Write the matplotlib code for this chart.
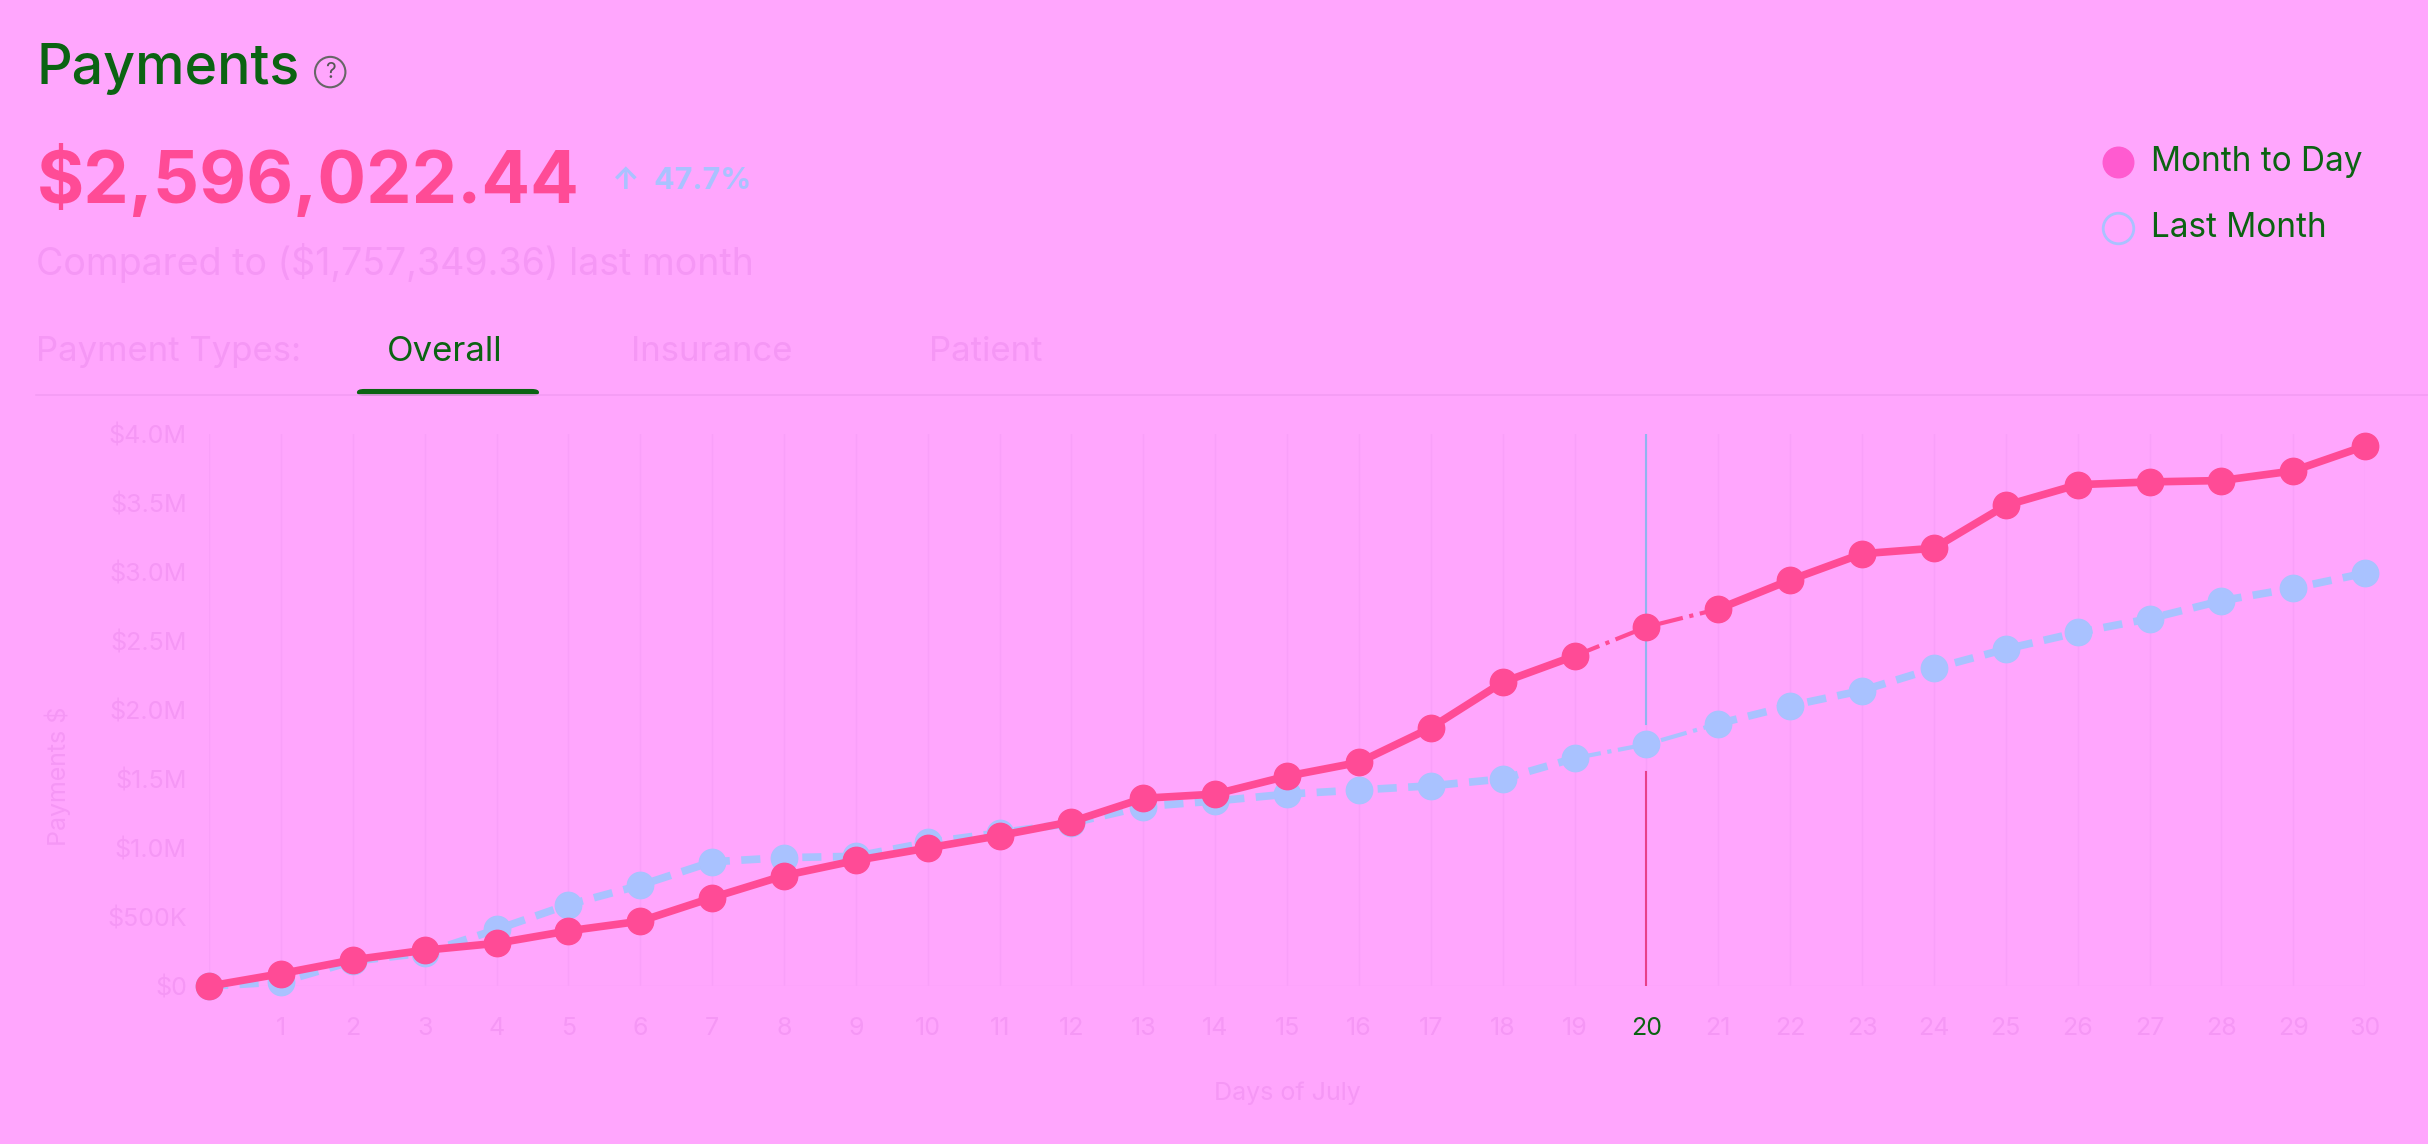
import matplotlib.pyplot as plt
from matplotlib.patches import FancyBboxPatch
from matplotlib.lines import Line2D

days = list(range(0, 31))
month_to_day = [0, 0.09, 0.19, 0.26, 0.31, 0.40, 0.47, 0.64, 0.80, 0.91, 1.00,
                1.09, 1.19, 1.36, 1.39, 1.52, 1.62, 1.87, 2.20, 2.39, 2.60,
                2.73, 2.94, 3.13, 3.17, 3.48, 3.63, 3.65, 3.66, 3.73, 3.91]
last_month = [0, 0.03, 0.18, 0.24, 0.41, 0.59, 0.73, 0.90, 0.93, 0.94, 1.04,
              1.11, 1.18, 1.30, 1.34, 1.39, 1.42, 1.45, 1.50, 1.65, 1.75,
              1.90, 2.03, 2.14, 2.30, 2.44, 2.56, 2.66, 2.79, 2.88, 2.99]
y_ticks = [0, 0.5, 1.0, 1.5, 2.0, 2.5, 3.0, 3.5, 4.0]
y_labels = ['$0', '$500K', '$1.0M', '$1.5M', '$2.0M', '$2.5M', '$3.0M', '$3.5M', '$4.0M']
hover_day = 20

BG = '#FFA6FD'
PINK = '#FF4B96'
BLUE = '#A9C2FF'
GREEN = '#0B6312'
FAINT = '#F597F5'

plt.rcParams['font.family'] = ['Inter', 'DejaVu Sans']

fig = plt.figure(figsize=(24.28, 11.44), dpi=100, facecolor=BG)
ax = fig.add_axes([0.0861, 0.138, 0.888, 0.483], facecolor=BG)

# header
fig.text(0.015, 0.94, 'Payments', fontsize=40, color=GREEN, va='center', weight='medium')
fig.text(0.136, 0.937, '?', fontsize=15, color='#555555', va='center', ha='center',
         bbox=dict(boxstyle='circle,pad=0.25', fc='none', ec='#666666', lw=1.5))
fig.text(0.015, 0.842, '$2,596,022.44', fontsize=52, color=PINK, weight='bold', va='center')
fig.text(0.252, 0.842, '\u2191  47.7%', fontsize=22, color=BLUE, weight='bold', va='center')
fig.text(0.015, 0.77, 'Compared to ($1,757,349.36) last month', fontsize=27, color=FAINT, va='center')

fig.text(0.015, 0.692, 'Payment Types:', fontsize=25, color=FAINT, va='center')
fig.text(0.183, 0.692, 'Overall', fontsize=25, color=GREEN, va='center', ha='center')
fig.text(0.293, 0.692, 'Insurance', fontsize=25, color=FAINT, va='center', ha='center')
fig.text(0.406, 0.692, 'Patient', fontsize=25, color=FAINT, va='center', ha='center')
fig.add_artist(Line2D([0.015, 1.0], [0.655, 0.655], color='#F49CF4', lw=1.2))
fig.add_artist(FancyBboxPatch((0.147, 0.654), 0.075, 0.006, boxstyle='round,pad=0,rounding_size=0.003',
                              fc=GREEN, ec='none'))

# legend
fig.add_artist(Line2D([0.8725], [0.858], marker='o', ms=22, color='#FF5BD0', ls='none'))
fig.text(0.886, 0.858, 'Month to Day', fontsize=24, color=GREEN, va='center')
fig.add_artist(Line2D([0.8725], [0.801], marker='o', ms=22, mfc='none', mec=BLUE, mew=2,
                      ls='none'))
fig.text(0.886, 0.801, 'Last Month', fontsize=24, color=GREEN, va='center')

# grid
for d in days:
    ax.axvline(d, color='#F9A0F9', lw=1, zorder=0)
ax.axhline(0, color='#F9A0F9', lw=1, zorder=0)

# hover line
ax.plot([hover_day, hover_day], [1.9, 4.0], color='#8FB5F0', lw=1.5, zorder=1)
ax.plot([hover_day, hover_day], [0, 1.55], color='#E8408A', lw=1.5, zorder=1)

# last month (dashed) and month to day (solid), split around hover day
i = days.index(hover_day)
ax.plot(days[:i], last_month[:i], color=BLUE, lw=5.5, ls=(0, (2.5, 1.5)), zorder=2, clip_on=False)
ax.plot(days[i + 1:], last_month[i + 1:], color=BLUE, lw=5.5, ls=(0, (2.5, 1.5)), zorder=2, clip_on=False)
ax.plot(days[i - 1:i + 2], last_month[i - 1:i + 2], color=BLUE, lw=3, ls='-.', zorder=2)
ax.plot(days, last_month, 'o', color=BLUE, ms=19, zorder=3, clip_on=False)

ax.plot(days[:i], month_to_day[:i], color=PINK, lw=5.5, zorder=4, clip_on=False)
ax.plot(days[i + 1:], month_to_day[i + 1:], color=PINK, lw=5.5, zorder=4, clip_on=False)
ax.plot(days[i - 1:i + 2], month_to_day[i - 1:i + 2], color=PINK, lw=3, ls='-.', zorder=4)
ax.plot(days, month_to_day, 'o', color=PINK, ms=19, zorder=5, clip_on=False)

ax.set_xlim(0, 30)
ax.set_ylim(0, 4.0)
ax.set_xticks(days[1:])
ax.set_xticklabels([str(d) for d in days[1:]])
for lbl in ax.get_xticklabels():
    lbl.set_color(GREEN if lbl.get_text() == str(hover_day) else FAINT)
ax.set_yticks(y_ticks)
ax.set_yticklabels(y_labels, color=FAINT)
ax.tick_params(length=0, labelsize=18, pad=16)
ax.tick_params(axis='x', pad=22)
for s in ax.spines.values():
    s.set_visible(False)
ax.set_xlabel('Days of July', fontsize=18, color=FAINT, labelpad=30)
ax.set_ylabel('Payments $', fontsize=18, color=FAINT, labelpad=20)
ax.yaxis.set_label_coords(-0.064, 0.38)

fig.savefig('out.png', dpi=100, facecolor=BG)
